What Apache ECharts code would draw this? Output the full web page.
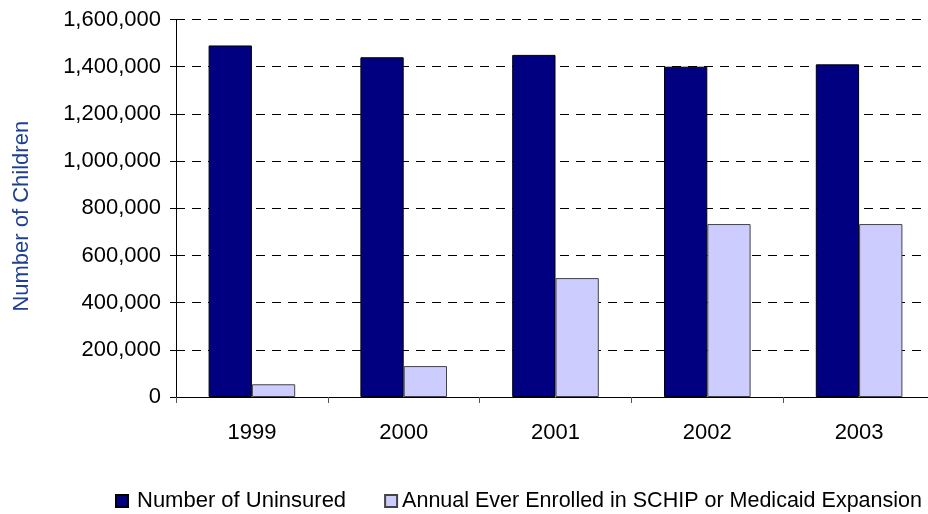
<!DOCTYPE html>
<html>
<head>
<meta charset="utf-8">
<script src="https://cdn.jsdelivr.net/npm/echarts@6/dist/echarts.min.js"></script>
<style>
  html, body { margin: 0; padding: 0; background: #fff; overflow: hidden; }
  /* canvas is a bit wider than the window so the plot's last category is clipped at the right */
  #chart { width: 940px; height: 514px; }
</style>
</head>
<body>
<div id="chart"></div>
<script>
// Children's coverage by year
const years = ['1999', '2000', '2001', '2002', '2003'];
const uninsured = [1490000, 1440000, 1450000, 1400000, 1410000];
const everEnrolled = [54000, 131000, 504000, 733000, 733000];
const seriesNames = ['Number of Uninsured', 'Annual Ever Enrolled in SCHIP or Medicaid Expansion'];

const font = 'Liberation Sans, Arial, sans-serif';
const chart = echarts.init(document.getElementById('chart'));

chart.setOption({
  animation: false,
  backgroundColor: '#ffffff',
  grid: { left: 176, top: 19.5, width: 759, height: 377.5, containLabel: false },
  legend: {
    left: 115,
    top: 490,
    padding: 0,
    width: 900,
    itemWidth: 12,
    itemHeight: 12,
    itemGap: 38,
    icon: 'rect',
    textStyle: { fontFamily: font, fontSize: 22, color: '#000' },
    data: [
      { name: seriesNames[0], textStyle: { padding: [0, 0, 0, 4] } },
      { name: seriesNames[1], textStyle: { fontSize: 21.5 } }
    ]
  },
  xAxis: {
    type: 'category',
    data: years,
    axisLine: { lineStyle: { color: '#000', width: 1 } },
    axisTick: { show: true, length: 6, alignWithLabel: false, lineStyle: { color: '#555' } },
    axisLabel: { fontFamily: font, fontSize: 22, color: '#000', margin: 25 }
  },
  yAxis: {
    type: 'value',
    min: 0,
    max: 1600000,
    interval: 200000,
    name: 'Number of Children',
    nameLocation: 'middle',
    nameGap: 143,
    nameTextStyle: { fontFamily: font, fontSize: 22, color: '#1F3F94', padding: [0, 16, 0, 0] },
    axisLine: { show: true, lineStyle: { color: '#000', width: 1 } },
    axisTick: { show: true, length: 6, lineStyle: { color: '#000' } },
    axisLabel: {
      fontFamily: font, fontSize: 22, color: '#000', margin: 15,
      formatter: v => v.toLocaleString('en-US')
    },
    splitLine: { show: true, lineStyle: { color: '#000', type: [9, 7], width: 1 } }
  },
  series: [
    {
      name: seriesNames[0],
      type: 'bar',
      data: uninsured,
      barWidth: 43.3,
      barGap: '0%',
      itemStyle: { color: '#000080', borderColor: '#000', borderWidth: 1 }
    },
    {
      name: seriesNames[1],
      type: 'bar',
      data: everEnrolled,
      barWidth: 43.3,
      itemStyle: { color: '#CCCCFF', borderColor: '#444', borderWidth: 1 }
    }
  ]
});
</script>
</body>
</html>
